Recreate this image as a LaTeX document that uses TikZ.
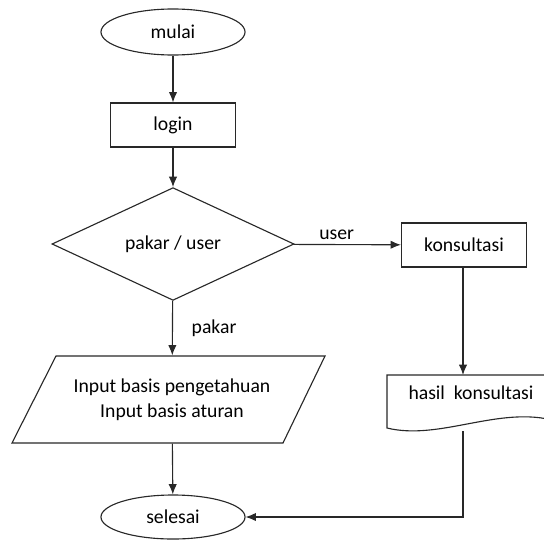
\documentclass[tikz,border=0pt]{standalone}
\usepackage{fontspec}
\setmainfont{Carlito}
\usepackage{tikz}
\usetikzlibrary{arrows.meta,shapes.geometric,positioning}
\definecolor{garis}{RGB}{40, 40, 40}

\begin{document}
\begin{tikzpicture}[x = 0.025cm, y = -0.025cm,
		font = \fontsize{14}{18}\selectfont,
		line width = 0.8pt, draw = garis,
		terminal/.style = {ellipse, draw, minimum width = 3.6cm, minimum height = 1.15cm},
		proses/.style = {rectangle, draw, minimum width = 3.125cm, minimum height = 1.1cm},
		pilihan/.style = {diamond, draw, minimum width = 6.05cm, minimum height = 2.7cm, inner sep = 0pt},
		masukan/.style = {rectangle, minimum width = 6.7cm, minimum height = 2.175cm, inner sep = 0pt, align = center},
		arr/.style = {-{Latex[length = 2.6mm, width = 2.1mm]}}]
		\useasboundingbox (0,0) rectangle (544,539);
		\clip (0,0) rectangle (544,539);
		\node (mulai) at (173,32) [terminal] {mulai};
		\node (login) at (173,125) [proses] {login};
		\node (pilih) at (173,244) [pilihan] {pakar / user};
		\node (konsul) at (464,245) [proses] {konsultasi};
		\node (input) at (172,399.5) [masukan] {Input basis pengetahuan\\Input basis aturan};
		\node (hasil) at (471,393) {hasil\ \ konsultasi};
		\node (selesai) at (173,517) [terminal, minimum height = 1.1cm] {selesai};
		% jajaran genjang input
		\draw (56,356) -- (325,356) -- (283,443) -- (12,443) -- cycle;
		% dokumen hasil
		\draw (387,375) -- (556,375) -- (556,421) .. controls (500,405) and (440,441) .. (387,428) -- cycle;
		\coordinate (hasilatas) at (463,375);
		\coordinate (hasilbawah) at (463,431);
		\draw[arr] (mulai) edge (login);
		\draw[arr] (login) edge (pilih);
		\draw[arr] (pilih) edge node[above, pos = 0.4] {user} (konsul);
		\draw[arr] (pilih) edge node[right = 0.35cm] {pakar} (input);
		\draw[arr] (konsul.south -| hasilatas) -- (hasilatas);
		\draw[arr] (input) edge (selesai);
		\draw[arr] (hasilbawah) |- (selesai);
		\end{tikzpicture}
\end{document}
